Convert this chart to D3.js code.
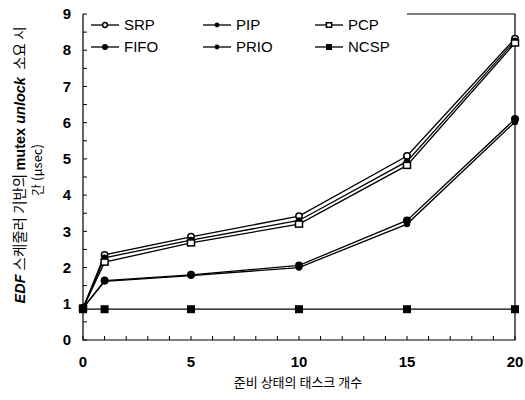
<!DOCTYPE html>
<html>
<head>
<meta charset="utf-8">
<script src="https://cdn.jsdelivr.net/npm/d3@7"></script>
<style>
  html, body { margin: 0; padding: 0; background: #fff; overflow: hidden; }
  svg { display: block; }
  .tick-label { font-family: "Liberation Sans Narrow", "Liberation Sans", Arial, sans-serif; font-weight: bold; font-size: 15px; }
  .legend-text { font-family: "Liberation Sans Narrow", "Liberation Sans", Arial, sans-serif; font-size: 15px; }
  .axis-title { font-family: "Noto Sans CJK KR", sans-serif; font-size: 13px; }
</style>
</head>
<body>
<svg></svg>
<script>
const width = 525, height = 400;
const margin = { top: 14, right: 10, bottom: 60, left: 83 };
const innerWidth = width - margin.left - margin.right;
const innerHeight = height - margin.top - margin.bottom;

// data
const taskCounts = [0, 1, 5, 10, 15, 20];
const srp  = [0.88, 2.35, 2.85, 3.42, 5.08, 8.32];
const pip  = [0.88, 2.27, 2.76, 3.30, 4.93, 8.26];
const pcp  = [0.88, 2.15, 2.68, 3.20, 4.82, 8.20];
const fifo = [0.88, 1.64, 1.80, 2.06, 3.30, 6.10];
const prio = [0.88, 1.62, 1.78, 2.00, 3.20, 6.02];
const ncsp = [0.85, 0.85, 0.85, 0.85, 0.85, 0.85];
const seriesNames = ["SRP", "PIP", "PCP", "FIFO", "PRIO", "NCSP"];
const seriesValues = [srp, pip, pcp, fifo, prio, ncsp];
const markerTypes = ["openCircle", "dot", "openSquare", "circle", "dot", "square"];
const xTicks = [0, 5, 10, 15, 20];
const yTicks = [0, 1, 2, 3, 4, 5, 6, 7, 8, 9];
const yTitleParts = [
    { t: "EDF ", style: "bold-italic" },
    { t: "스케줄러 기반의 ", style: "kr" },
    { t: "mutex ", style: "bold" },
    { t: "unlock ", style: "bold-italic" },
    { t: " 소요 시", style: "kr" }
];

const svg = d3.select("svg")
    .attr("width", width)
    .attr("height", height);

const g = svg.append("g")
    .attr("transform", `translate(${margin.left},${margin.top})`);

const xScale = d3.scaleLinear().domain([0, 20]).range([0, innerWidth]);
const yScale = d3.scaleLinear().domain([0, 9]).range([innerHeight, 0]);

// frame: left, bottom, right, and a piece of the top
g.append("path")
    .attr("fill", "none")
    .attr("stroke", "#000")
    .attr("stroke-width", 1.2)
    .attr("d", `M${xScale(15)},0H${xScale(20)}V${innerHeight}H0V0`);

// inward ticks
g.selectAll(".ytick")
    .data(d3.range(0, 9.01, 0.5))
    .enter().append("line")
    .attr("x1", 0).attr("x2", 4)
    .attr("y1", d => yScale(d)).attr("y2", d => yScale(d))
    .attr("stroke", "#000");

g.selectAll(".xtick")
    .data(d3.range(0, 21, 1))
    .enter().append("line")
    .attr("x1", d => xScale(d)).attr("x2", d => xScale(d))
    .attr("y1", innerHeight).attr("y2", innerHeight - 4)
    .attr("stroke", "#000");

g.selectAll(".ylabel")
    .data(yTicks)
    .enter().append("text")
    .attr("class", "tick-label")
    .attr("x", -12)
    .attr("y", d => yScale(d))
    .attr("dy", "0.35em")
    .attr("text-anchor", "end")
    .text(d => d);

g.selectAll(".xlabel")
    .data(xTicks)
    .enter().append("text")
    .attr("class", "tick-label")
    .attr("x", d => xScale(d))
    .attr("y", innerHeight + 27)
    .attr("text-anchor", "middle")
    .text(d => d);

// axis titles
svg.append("text")
    .attr("class", "axis-title")
    .attr("x", 298)
    .attr("y", 387)
    .attr("text-anchor", "middle")
    .text("준비 상태의 태스크 개수");

// y title, line 1: pieces laid end to end along the rotated baseline
const yTitle = svg.append("g").attr("transform", "translate(25,165) rotate(-90)");
const pieces = yTitleParts.map(p => {
    const t = yTitle.append("text")
        .style("font-size", "14.5px")
        .style("white-space", "pre")
        .text(p.t);
    if (p.style === "kr") {
        t.style("font-family", "'Noto Sans CJK KR', sans-serif");
    } else {
        t.style("font-family", "'Liberation Sans Narrow', 'Liberation Sans', sans-serif")
            .style("font-weight", "bold");
        if (p.style === "bold-italic") t.style("font-style", "italic");
    }
    return t;
});
const lengths = pieces.map(t => t.node().getComputedTextLength());
const total = d3.sum(lengths);
let cursor = -total / 2;
pieces.forEach((t, i) => {
    t.attr("x", cursor);
    cursor += lengths[i];
});

svg.append("text")
    .attr("class", "axis-title")
    .attr("text-anchor", "middle")
    .attr("transform", "translate(42,170) rotate(-90)")
    .text("간 (μsec)");

const drawMarker = (sel, type, x, y, s = 1) => {
    if (type === "openCircle") {
        sel.append("circle").attr("cx", x).attr("cy", y).attr("r", 3.2 * s)
            .attr("fill", "#fff").attr("stroke", "#000").attr("stroke-width", 1.5);
    } else if (type === "dot") {
        sel.append("circle").attr("cx", x).attr("cy", y).attr("r", 3.2 * s).attr("fill", "#000");
    } else if (type === "circle") {
        sel.append("circle").attr("cx", x).attr("cy", y).attr("r", 4 * s).attr("fill", "#000");
    } else if (type === "openSquare") {
        sel.append("rect").attr("x", x - 3.5 * s).attr("y", y - 3 * s).attr("width", 7 * s).attr("height", 6 * s)
            .attr("fill", "#fff").attr("stroke", "#000").attr("stroke-width", 1.5);
    } else {
        sel.append("rect").attr("x", x - 4 * s).attr("y", y - 4 * s).attr("width", 8 * s).attr("height", 8 * s).attr("fill", "#000");
    }
};

const line = d3.line()
    .x((d, i) => xScale(taskCounts[i]))
    .y(d => yScale(d));

seriesValues.forEach((vals, k) => {
    g.append("path")
        .datum(vals)
        .attr("fill", "none")
        .attr("stroke", "#000")
        .attr("stroke-width", 1.3)
        .attr("d", line);
});

seriesValues.forEach((vals, k) => {
    vals.forEach((v, i) => drawMarker(g, markerTypes[k], xScale(taskCounts[i]), yScale(v)));
});

// legend
const legend = svg.append("g");
seriesNames.forEach((name, k) => {
    const col = k % 3, row = Math.floor(k / 3);
    const lx = 91 + col * 112, ly = 25 + row * 22;
    legend.append("line")
        .attr("x1", lx).attr("x2", lx + 28)
        .attr("y1", ly).attr("y2", ly)
        .attr("stroke", "#000").attr("stroke-width", 1.3);
    drawMarker(legend, markerTypes[k], lx + 14, ly, 0.75);
    legend.append("text")
        .attr("class", "legend-text")
        .attr("x", lx + 33)
        .attr("y", ly)
        .attr("dy", "0.36em")
        .text(name);
});
</script>
</body>
</html>
